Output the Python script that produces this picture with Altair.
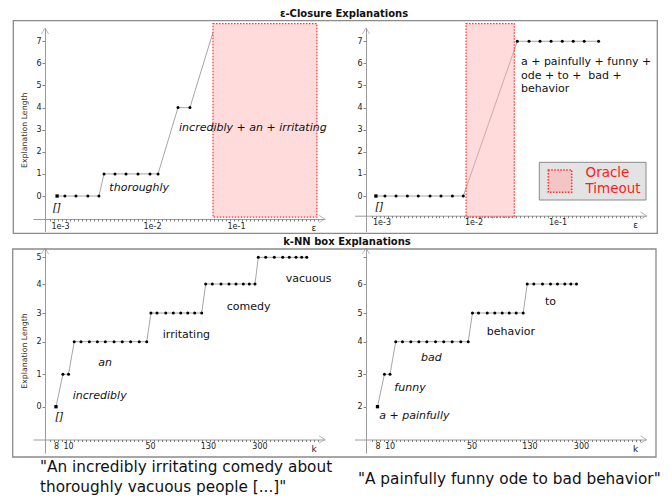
import altair as alt
import pandas as pd

W, H = 656, 488

# ---------------- data: ε-closure explanations ----------------
# left sentence
EPS_A = [0.00093, 0.00113, 0.00149, 0.00201, 0.00265, 0.00301, 0.00396,
         0.00522, 0.00704, 0.00951, 0.0118, 0.0204, 0.0283]
LEN_EPS_A = [0, 0, 0, 0, 0, 1, 1, 1, 1, 1, 1, 4, 4]
EPS_A_TAIL = [0.0532]          # the line runs on into the timeout region
LEN_EPS_A_TAIL = [7.4]
TIMEOUT_A = [0.0532, 0.92]
# right sentence
EPS_B = [0.00087, 0.00109, 0.00144, 0.00191, 0.00251, 0.00337, 0.00443,
         0.00589, 0.00775, 0.0332, 0.0458, 0.0619, 0.0838, 0.114, 0.154,
         0.208, 0.309]
LEN_EPS_B = [0, 0, 0, 0, 0, 0, 0, 0, 0, 7, 7, 7, 7, 7, 7, 7, 7]
TIMEOUT_B = [0.0083, 0.0306]
TIMEOUT_LEN = [-0.95, 7.8]

# ---------------- data: k-NN box explanations ----------------
K_A = [8, 9.1, 10.1, 11.3, 12.9, 15.2, 17.8, 20.8, 24.7, 29.0, 34.2, 40.5,
       46.9, 50.8, 56.1, 64.8, 73.4, 82.9, 93.1, 104.4, 117.2, 125.2, 139.4,
       160.5, 182.8, 204.8, 230.6, 254.2, 278.8, 294.2, 329.2, 374.5, 424.6,
       468.8, 518.3, 564.4, 608.3]
LEN_K_A = [0, 1, 1, 2, 2, 2, 2, 2, 2, 2, 2, 2, 2, 3, 3, 3, 3, 3, 3, 3, 3,
           4, 4, 4, 4, 4, 4, 4, 4, 5, 5, 5, 5, 5, 5, 5, 5]
K_B = [8, 9.1, 10.1, 11.3, 12.9, 15.2, 17.8, 20.8, 24.7, 29.0, 34.2, 40.5,
       46.9, 50.8, 56.1, 64.8, 73.4, 82.9, 93.1, 104.4, 117.2, 125.2, 139.4,
       160.5, 182.8, 204.8, 230.6, 254.2, 278.8]
LEN_K_B = [2, 3, 3, 4, 4, 4, 4, 4, 4, 4, 4, 4, 4, 5, 5, 5, 5, 5, 5, 5, 5,
           6, 6, 6, 6, 6, 6, 6, 6]

# ---------------- annotation labels ----------------
LAB_EA_TEXT = ["[]", "thoroughly", "incredibly + an + irritating"]
LAB_EA_X = [0.00083, 0.00344, 0.0210]
LAB_EA_Y = [-0.56, 0.35, 3.06]
LAB_EA_IT = [True, True, True]

LAB_EB_TEXT = ["[]", "a + painfully + funny +", "ode + to +\u00a0 bad +", "behavior"]
LAB_EB_X = [0.00085, 0.0367, 0.0367, 0.0367]
LAB_EB_Y = [-0.51, 6.08, 5.44, 4.83]
LAB_EB_IT = [True, False, False, False]

LAB_KA_TEXT = ["[]", "incredibly", "an", "irritating", "comedy", "vacuous"]
LAB_KA_X = [7.84, 10.97, 18.1, 61.7, 176.2, 444]
LAB_KA_Y = [-0.31, 0.34, 1.34, 2.23, 3.20, 4.19]
LAB_KA_IT = [True, True, True, False, False, False]

LAB_KB_TEXT = ["a + painfully", "funny", "bad", "behavior", "to"]
LAB_KB_X = [8.27, 11.0, 18.6, 64.2, 167.2]
LAB_KB_Y = [1.71, 2.57, 3.49, 4.35, 5.39]
LAB_KB_IT = [True, True, True, False, False]

# ---------------- ticks ----------------
EPS_TICKS = [0.001, 0.01, 0.1]
EPS_TICK_LABELS = ["1e-3", "1e-2", "1e-1"]
K_TICKS = [8, 10, 50, 130, 300]
K_TICK_LABELS = ["8", "10", "50", "130", "300"]
LEN_TICKS_TOP = [0, 1, 2, 3, 4, 5, 6, 7]
LEN_TICKS_KA = [0, 1, 2, 3, 4, 5]
LEN_TICKS_KB = [2, 3, 4, 5, 6, 7]

TITLES = ["ε-Closure Explanations", "k-NN box Explanations"]
CAPTION_A = ["\"An incredibly irritating comedy about", "thoroughly vacuous people [...]\""]
CAPTION_B = "\"A painfully funny ode to bad behavior\""
LEGEND_LABELS = ["Oracle", "Timeout"]

# ---------------- scale domains (hand-drawn axes, piecewise) ----------------
EPS_DOMAIN = [5.1e-4, 1e-3, 1e-2, 1e-1, 1.15]
K_DOMAIN = [5, 8, 10, 50, 130, 300, 800]
LEN_DOMAIN_TOP = [-1.6, 7.6]
LEN_DOMAIN_KA = [-1.43, 0, 1, 2, 3, 4, 5, 5.33]
LEN_DOMAIN_KB = [0.57, 2, 3, 4, 5, 6, 7, 7.33]

# ---------------- layout (pixels) ----------------
SHIFT = 321.5
EPS_RANGE = [25, 52, 144, 228, 317]
K_RANGE = [25, 48, 60, 142, 200, 251.5, 317]
LEN_RANGE_TOP = [223.4, 20]
LEN_RANGE_K = [445, 398.7, 366.3, 333.7, 305, 276, 249.3, 240]

FONT = "DejaVu Sans"
AXIS_GREY = "#9a9a9a"
TIMEOUT_FILL = "#ffb0b0"
TIMEOUT_STROKE = "#ff3030"
RIGHT_ARROW = "M -1 -0.6 L 0 0 L -1 0.6"
UP_ARROW = "M -0.6 1 L 0 0 L 0.6 1"

ONE = pd.DataFrame({"t": [0]})


def label_expr(values, labels):
    parts = [f"abs(datum.value - {v}) < {abs(v) * 0.01} ? '{t}'" for v, t in zip(values, labels)]
    return " : ".join(parts) + " : ''"


def vtext(txt, x, y, **kw):
    style = dict(fontSize=11, font=FONT, color="#111", align="left", baseline="middle")
    style.update(kw)
    return (alt.Chart(ONE).mark_text(**style)
            .encode(x=alt.value(x), y=alt.value(y), text=alt.value(txt)))


def panel(pts_x, pts_y, line_x, line_y, lab_text, lab_x, lab_y, lab_it,
          x_type, x_dom, x_rng, x_ticks, x_tick_labels, x_title, x_title_pos,
          x_axis_y, y_axis_x, y_dom, y_rng, y_ticks, y_expr, y_title,
          timeout=None):
    xs = alt.Scale(type=x_type, domain=x_dom, range=x_rng, nice=False)
    ys = alt.Scale(type="linear", domain=y_dom, range=y_rng, nice=False, zero=False)

    x_axis = alt.Axis(
        orient="bottom", offset=x_axis_y - H, values=x_ticks,
        labelExpr=label_expr(x_ticks, x_tick_labels), ticks=False, tickSize=0,
        labelPadding=3, domainColor=AXIS_GREY, domainWidth=1, labelFontSize=8,
        labelColor="#222", grid=False, labelOverlap=False, labelFlush=False,
        title=None,
    )
    y_kw = dict(
        orient="left", offset=-y_axis_x, values=y_ticks, labelExpr=y_expr,
        tickSize=3, tickColor="#888", domainColor=AXIS_GREY, domainWidth=1,
        labelFontSize=8, labelPadding=1, labelColor="#222", grid=False,
        labelOverlap=False, labelFlush=False,
    )
    if y_title:
        y_kw.update(title=y_title, titleFontSize=7.8, titleFontWeight="normal",
                    titlePadding=7, titleColor="#333")
    else:
        y_kw.update(title=None)
    y_axis = alt.Axis(**y_kw)

    def X(f, axis=None):
        return alt.X(f"{f}:Q", scale=xs, axis=axis)

    def Y(f, axis=None):
        return alt.Y(f"{f}:Q", scale=ys, axis=axis)

    layers = []
    line_df = pd.DataFrame({"x": line_x, "y": line_y})
    layers.append(alt.Chart(line_df).mark_line(color="#8f8f8f", strokeWidth=0.8)
                  .encode(x=X("x"), y=Y("y")))

    pts_df = pd.DataFrame({"x": pts_x, "y": pts_y, "i": list(range(len(pts_x)))})
    layers.append(alt.Chart(pts_df).mark_point(filled=True, color="black", opacity=1)
                  .encode(x=X("x", x_axis), y=Y("y", y_axis),
                          shape=alt.condition(alt.datum.i == 0, alt.value("square"), alt.value("circle")),
                          size=alt.condition(alt.datum.i == 0, alt.value(11), alt.value(9))))

    if timeout is not None:
        to_df = pd.DataFrame({"x0": [timeout[0]], "x1": [timeout[1]],
                              "y0": [TIMEOUT_LEN[0]], "y1": [TIMEOUT_LEN[1]]})
        layers.append(alt.Chart(to_df).mark_rect(fill=TIMEOUT_FILL, fillOpacity=0.45,
                                                 stroke=TIMEOUT_STROKE,
                                                 strokeDash=[1.5, 1.5], strokeWidth=1.2)
                      .encode(x=X("x0"), x2="x1", y=Y("y0"), y2="y1"))

    lab_df = pd.DataFrame({"text": lab_text, "x": lab_x, "y": lab_y, "italic": lab_it})
    for italic in (True, False):
        sub = lab_df[lab_df["italic"] == italic]
        if len(sub):
            layers.append(alt.Chart(sub).mark_text(
                align="left", baseline="middle", fontSize=11, font=FONT,
                fontStyle="italic" if italic else "normal", color="#111")
                .encode(x=X("x"), y=Y("y"), text="text:N"))

    # fine ruler ticks along the x axis
    x0 = x_rng[0]
    tick_px = [x0 + 17 + 4 * i for i in range(68)]
    layers.append(alt.Chart(ONE).mark_point(opacity=0).encode(
        x=alt.X("t:Q", scale=alt.Scale(domain=[0, W], range=[0, W]),
                axis=alt.Axis(orient="bottom", offset=x_axis_y - H, values=tick_px,
                              labels=False, domain=False, ticks=True, tickSize=2,
                              tickColor="#666", tickWidth=0.8, grid=False, title=None))))

    # axis end label (ε / k)
    layers.append(vtext(x_title, x_title_pos, x_axis_y + 9, fontSize=9, align="center",
                        color="#222"))

    # arrow heads
    layers.append(alt.Chart(ONE).mark_point(shape=RIGHT_ARROW, filled=False, stroke=AXIS_GREY,
                                            strokeWidth=1, size=144)
                  .encode(x=alt.value(x_rng[-1]), y=alt.value(x_axis_y)))
    layers.append(alt.Chart(ONE).mark_point(shape=UP_ARROW, filled=False, stroke=AXIS_GREY,
                                            strokeWidth=1, size=144)
                  .encode(x=alt.value(y_axis_x), y=alt.value(y_rng[-1])))
    return layers


def shift(r):
    return [v + SHIFT for v in r]


layers = []
# frames
for (fx0, fx1, fy0, fy1) in [(5.3, 649.3, 12.7, 225.3), (4.7, 648, 241, 449)]:
    layers.append(alt.Chart(ONE).mark_rect(fillOpacity=0, stroke="#8a8a8a", strokeWidth=1.3)
                  .encode(x=alt.value(fx0), x2=alt.value(fx1), y=alt.value(fy0), y2=alt.value(fy1)))

hide7 = "datum.value == 7 ? '' : datum.label"
layers += panel(EPS_A, LEN_EPS_A, EPS_A + EPS_A_TAIL, LEN_EPS_A + LEN_EPS_A_TAIL,
                LAB_EA_TEXT, LAB_EA_X, LAB_EA_Y, LAB_EA_IT,
                "log", EPS_DOMAIN, EPS_RANGE, EPS_TICKS, EPS_TICK_LABELS, "ε", 306,
                211, 37, LEN_DOMAIN_TOP, LEN_RANGE_TOP, LEN_TICKS_TOP, "datum.label",
                "Explanation Length", timeout=TIMEOUT_A)
layers += panel(EPS_B, LEN_EPS_B, EPS_B, LEN_EPS_B,
                LAB_EB_TEXT, LAB_EB_X, LAB_EB_Y, LAB_EB_IT,
                "log", EPS_DOMAIN, shift(EPS_RANGE), EPS_TICKS, EPS_TICK_LABELS, "ε", 627.7,
                207.7, 358, LEN_DOMAIN_TOP, LEN_RANGE_TOP, LEN_TICKS_TOP, "datum.label",
                None, timeout=TIMEOUT_B)
layers += panel(K_A, LEN_K_A, K_A, LEN_K_A,
                LAB_KA_TEXT, LAB_KA_X, LAB_KA_Y, LAB_KA_IT,
                "log", K_DOMAIN, K_RANGE, K_TICKS, K_TICK_LABELS, "k", 306,
                431.5, 37, LEN_DOMAIN_KA, LEN_RANGE_K, LEN_TICKS_KA, "datum.label",
                "Explanation Length")
layers += panel(K_B, LEN_K_B, K_B, LEN_K_B,
                LAB_KB_TEXT, LAB_KB_X, LAB_KB_Y, LAB_KB_IT,
                "log", K_DOMAIN, shift(K_RANGE), K_TICKS, K_TICK_LABELS, "k", 627.7,
                431.5, 358, LEN_DOMAIN_KB, LEN_RANGE_K, LEN_TICKS_KB, hide7,
                None)

# legend for the timeout region
layers.append(alt.Chart(ONE).mark_rect(fill="#e3e3e3", stroke="#8a8a8a", strokeWidth=1)
              .encode(x=alt.value(531.3), x2=alt.value(638), y=alt.value(154.3), y2=alt.value(192)))
layers.append(alt.Chart(ONE).mark_rect(fill=TIMEOUT_FILL, fillOpacity=0.6, stroke=TIMEOUT_STROKE,
                                       strokeDash=[1.5, 1.5], strokeWidth=1.5)
              .encode(x=alt.value(540.3), x2=alt.value(563.7), y=alt.value(162), y2=alt.value(184.3)))
for txt, ty in zip(LEGEND_LABELS, [164.7, 181.3]):
    layers.append(vtext(txt, 577.5, ty, fontSize=13.5, color="#ff1a1a"))

# group titles
for txt, tx, ty in [(TITLES[0], 336, 5.5), (TITLES[1], 339, 234)]:
    layers.append(vtext(txt, tx, ty, fontSize=10, fontWeight="bold", align="center"))

# captions
for txt, tx, ty in [(CAPTION_A[0], 32, 459), (CAPTION_A[1], 32, 479), (CAPTION_B, 350, 471)]:
    layers.append(vtext(txt, tx, ty, fontSize=15.3))

chart = (alt.layer(*layers)
         .resolve_scale(x="independent", y="independent")
         .properties(width=W, height=H, autosize=alt.AutoSizeParams(type="none"), padding=0)
         .configure_view(stroke=None)
         .configure_axis(labelFont=FONT, titleFont=FONT))

chart.save("out.html", embed_options={"renderer": "svg", "actions": False})
